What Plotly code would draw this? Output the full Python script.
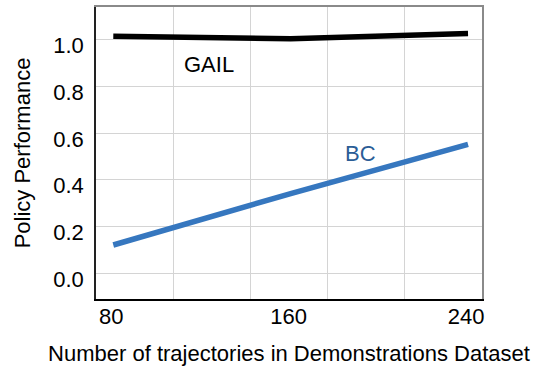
import plotly.graph_objects as go

# Number of trajectories in the demonstrations dataset
trajectories = [80, 160, 240]
gail_perf = [1.014, 1.003, 1.026]
bc_perf = [0.121, 0.341, 0.551]

x_tick_vals = [80, 160, 240]
x_tick_text = ["80", "160", "240"]
y_tick_vals = [0.0, 0.2, 0.4, 0.6, 0.8, 1.0]
y_tick_text = ["0.0", "0.2", "0.4", "0.6", "0.8", "1.0"]

FONT = "Liberation Sans, Arial, Helvetica, sans-serif"
GRID = "#d4d4d4"

fig = go.Figure()
# empty trace so the frame/grid axes (x2, y2) get drawn
fig.add_trace(go.Scatter(x=[], y=[], xaxis="x2", yaxis="y2", mode="lines",
                         showlegend=False, hoverinfo="skip"))
fig.add_trace(go.Scatter(x=trajectories, y=gail_perf, mode="lines",
                         line=dict(color="#000000", width=5.5), name="GAIL",
                         showlegend=False))
fig.add_trace(go.Scatter(x=trajectories, y=bc_perf, mode="lines",
                         line=dict(color="#3677bf", width=5.5), name="BC",
                         showlegend=False))

fig.add_annotation(x=123, y=0.894, xref="x", yref="y", text="GAIL",
                   showarrow=False,
                   font=dict(family=FONT, size=22, color="#000000"))
fig.add_annotation(x=191.4, y=0.512, xref="x", yref="y", text="BC",
                   showarrow=False,
                   font=dict(family=FONT, size=22, color="#2b5d96"))

fig.update_layout(
    width=538, height=369,
    margin=dict(l=96, r=56, t=7, b=70),
    paper_bgcolor="white", plot_bgcolor="white",
    font=dict(family=FONT, size=22, color="#000000"),
    xaxis=dict(
        range=[72.2, 246.3], tickvals=x_tick_vals, ticktext=x_tick_text,
        showgrid=False, zeroline=False, showline=True, linecolor="#000000",
        linewidth=1.5, ticks="", ticklabelstandoff=-3,
        ticklabelshift=-2,
        title=dict(text="Number of trajectories in Demonstrations Dataset",
                   font=dict(size=22), standoff=17),
    ),
    yaxis=dict(
        range=[-0.110, 1.139], tickvals=y_tick_vals, ticktext=y_tick_text,
        showgrid=True, gridcolor=GRID, gridwidth=1, zeroline=False,
        showline=True, linecolor="#222222", linewidth=1.5,
        ticks="outside", ticklen=6, tickcolor="rgba(0,0,0,0)",
        ticklabelshift=6,
        title=dict(text="Policy Performance", font=dict(size=22), standoff=17),
    ),
    # evenly spaced vertical grid and the light frame on top / right
    xaxis2=dict(
        overlaying="x", side="top", range=[0, 5], dtick=1, tick0=0,
        showgrid=True, gridcolor=GRID, gridwidth=1, zeroline=False,
        showticklabels=False, ticks="", showline=True, linecolor="#8a8a8a",
        linewidth=1.5,
    ),
    yaxis2=dict(
        overlaying="y", side="right", range=[0, 1], showgrid=False,
        zeroline=False, showticklabels=False, ticks="", showline=True,
        linecolor="#8a8a8a", linewidth=1.5,
    ),
)

fig.write_html("out.html")
